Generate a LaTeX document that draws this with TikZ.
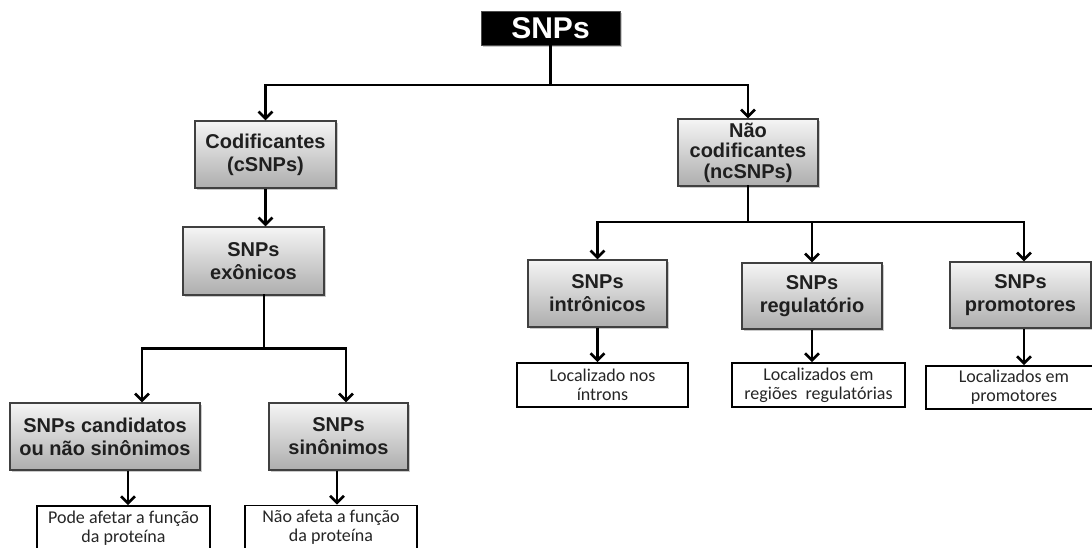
\documentclass[tikz,border=0pt]{standalone}
\usepackage{fontspec}
\setmainfont{Liberation Sans}
\newfontfamily\carlito{Carlito}
\usetikzlibrary{arrows.meta,shadows,calc}
\begin{document}
\begin{tikzpicture}[x=1pt,y=-1pt,
  greybox/.style={draw=black!75, line width=1.2pt, top color=black!4, bottom color=black!32,
    inner sep=0pt, align=center, text=black!88,
    font=\fontsize{20}{23}\selectfont\bfseries,
    drop shadow={shadow xshift=1.5pt, shadow yshift=-1.5pt, opacity=0.35, fill=black!60}},
  infobox/.style={draw=black, line width=1.8pt, fill=white, inner sep=0pt, align=center,
    text=black!85, font=\carlito\fontsize{18}{19}\selectfont},
  ln/.style={line width=2.6pt, line join=miter, line cap=rect},
  arr/.style={line width=2.6pt, line join=miter, -{Straight Barb[length=7pt,width=14pt]}}
]
\useasboundingbox (0,0) rectangle (1092,547);
\clip (0,0) rectangle (1092,547);

% top
\node[fill=black, draw=black!70, line width=1pt, minimum width=139pt, minimum height=34pt, inner sep=0pt,
  text=white, font=\fontsize{30}{32}\selectfont\bfseries,
  drop shadow={shadow xshift=1.5pt, shadow yshift=-1.5pt, opacity=0.35, fill=black!60}]
  (snps) at (550.5,28) {SNPs};

\node[greybox, minimum width=141pt, minimum height=67pt] (cod) at (265.5,154.5) {Codificantes\\(cSNPs)};
\node[greybox, minimum width=140pt, minimum height=67pt, font=\fontsize{20}{20.5}\selectfont\bfseries] (nao) at (748,152.5) {Não\\codificantes\\(ncSNPs)};

\node[greybox, minimum width=141pt, minimum height=68pt] (exo) at (253.5,261) {SNPs\\exônicos};

\node[greybox, minimum width=190pt, minimum height=67pt] (cand) at (105,436.5) {SNPs candidatos\\ou não sinônimos};
\node[greybox, minimum width=139pt, minimum height=67pt] (sin) at (338.5,436.5) {SNPs\\sinônimos};

\node[greybox, minimum width=139pt, minimum height=67pt] (intr) at (597.5,293.5) {SNPs\\intrônicos};
\node[greybox, minimum width=140pt, minimum height=66pt] (reg) at (812,296) {SNPs\\regulatório};
\node[greybox, minimum width=141pt, minimum height=66pt] (prom) at (1020.5,295) {SNPs\\promotores};

\node[infobox, minimum width=173pt, minimum height=44pt] (tcand) at (123.5,528) {Pode afetar a função\\da proteína};
\node[infobox, minimum width=172pt, minimum height=44pt] (tsin) at (331,527.5) {Não afeta a função\\da proteína};

\node[infobox, minimum width=171pt, minimum height=44pt] (tintr) at (602.5,385) {Localizado nos\\íntrons};
\node[infobox, minimum width=173pt, minimum height=44pt] (treg) at (818.5,385) {Localizados em\\regiões~ regulatórias};
\node[infobox, minimum width=176pt, minimum height=43pt] (tprom) at (1014,387.5) {Localizados em\\promotores};

% connectors top
\coordinate (j1) at (550.5,85);
\draw[ln] (snps.south) -- (j1);
\draw[arr] (j1) -| (cod.north);
\draw[arr] (j1) -| (nao.north);

% left branch
\draw[arr] (cod.south) -- (cod.south |- exo.north);
\coordinate (j3) at ($(exo.south)+(10.5,0)$);
\coordinate (j3b) at ($(j3)+(0,53)$);
\draw[ln] (j3) -- (j3b);
\coordinate (candin) at ($(cand.north)+(37,0)$);
\coordinate (sinin) at ($(sin.north)+(7.5,0)$);
\draw[arr] (j3b) -| (candin);
\draw[arr] (j3b) -| (sinin);

\coordinate (candout) at ($(cand.south)+(23,0)$);
\draw[arr] (candout) -- (candout |- tcand.north);
\coordinate (sinout) at ($(sin.south)+(-1.5,0)$);
\draw[arr] (sinout) -- (sinout |- tsin.north);

% right branch
\coordinate (j2) at (748,222);
\draw[ln] (nao.south) -- (j2);
\draw[arr] (j2) -| (intr.north);
\draw[arr] (j2) -| (reg.north);
\coordinate (promin) at ($(prom.north)+(3.5,0)$);
\draw[arr] (j2) -| (promin);

\draw[arr] (intr.south) -- (intr.south |- tintr.north);
\draw[arr] (reg.south) -- (reg.south |- treg.north);
\draw[arr] (promin |- prom.south) -- (promin |- tprom.north);
\end{tikzpicture}
\end{document}
